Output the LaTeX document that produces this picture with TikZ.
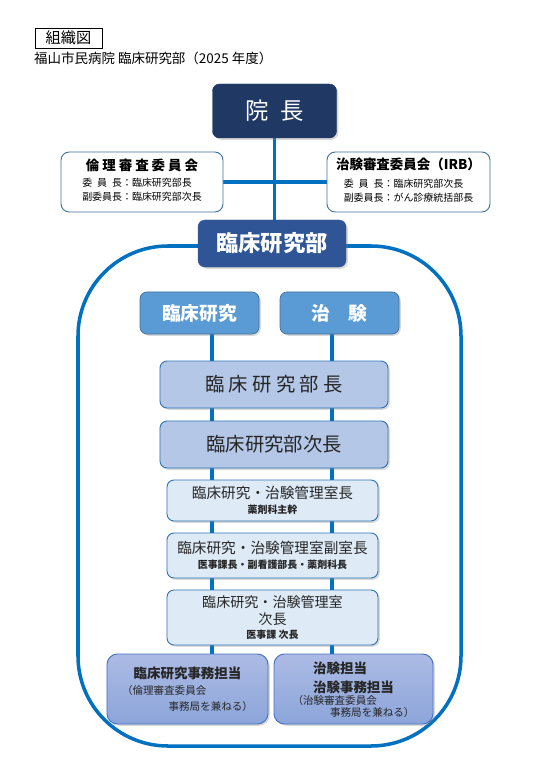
\documentclass[tikz,border=0pt]{standalone}
\usepackage{fontspec}
\setmainfont{Noto Sans CJK JP}
\newfontfamily\jpwide[LetterSpace=22]{Noto Sans CJK JP}
\usetikzlibrary{positioning,shadows,backgrounds}
\definecolor{NavyBox}{RGB}{32,56,100}
\definecolor{DeptBlue}{RGB}{47,85,151}
\definecolor{MidBlue}{RGB}{91,155,213}
\definecolor{MidBlueEdge}{RGB}{65,113,156}
\definecolor{PaleBlue}{RGB}{180,199,231}
\definecolor{LightBlue}{RGB}{222,235,247}
\definecolor{BoxEdge}{RGB}{46,117,182}
\definecolor{CommEdge}{RGB}{65,113,156}
\definecolor{LineBlue}{RGB}{0,112,192}
\definecolor{LavTop}{RGB}{172,187,228}
\definecolor{LavBottom}{RGB}{140,165,218}
\definecolor{LavEdge}{RGB}{68,114,196}
\definecolor{TextGray}{RGB}{38,38,38}
\newcommand{\subtxt}[1]{\\[-2pt]{\bfseries\fontsize{8.5}{10}\selectfont #1}}

\begin{document}
\begin{tikzpicture}[x=0.03cm,y=-0.03cm,font=\fontsize{11}{13}\selectfont,
		conn/.style={LineBlue,line width=2.8pt},
		bigframe/.style={LineBlue,line width=3pt,rounded corners=2.7cm},
		dropsh/.style={drop shadow={opacity=0.3,shadow xshift=1.5pt,shadow yshift=-1.5pt}},
		topbox/.style={rounded corners=6pt,align=center,inner sep=1pt,text=white,dropsh},
		comm/.style={draw=CommEdge,fill=white,line width=0.8pt,rounded corners=7pt,align=center,inner sep=1pt,minimum width=4.86cm,minimum height=1.8cm},
		unitbox/.style={topbox,fill=MidBlue,draw=MidBlueEdge,line width=0.6pt,minimum width=3.57cm,minimum height=1.26cm,font=\bfseries\fontsize{16}{19}\selectfont},
		headbox/.style={rounded corners=6pt,align=center,inner sep=1pt,fill=PaleBlue,draw=BoxEdge,line width=0.8pt,text=TextGray,minimum width=6.84cm,minimum height=1.41cm,font=\fontsize{16.5}{19}\selectfont,dropsh},
		roombox/.style={headbox,fill=LightBlue,minimum width=6.33cm,font=\fontsize{12.5}{15}\selectfont},
		jimubox/.style={rounded corners=9pt,align=center,inner sep=1pt,top color=LavTop,bottom color=LavBottom,draw=LavEdge,line width=0.8pt,minimum height=2.1cm,text=TextGray,font=\fontsize{9}{13}\selectfont,dropsh}]
	\useasboundingbox (0,0) rectangle (540,769);
	
	% タイトル
	\node[draw,line width=0.6pt,minimum width=2.01cm,minimum height=0.6cm,inner sep=0pt,font=\fontsize{13}{15}\selectfont] (title) at (68.5,38) {組織図};
	\node[anchor=west,inner sep=0pt,font=\fontsize{11.5}{14}\selectfont] (subtitle) at (34,58) {福山市民病院 臨床研究部（2025 年度）};
	
	% 院長と委員会
	\node[topbox,fill=NavyBox,draw=NavyBox,minimum width=3.72cm,minimum height=1.62cm,font=\fontsize{20}{24}\selectfont] (incho) at (274.5,111) {院\hspace{0.5em}長};
	\node[comm] (rinri) at (142,182) {{\jpwide\bfseries\fontsize{11.5}{14}\selectfont 倫理審査委員会}\\[3pt]
		\fontsize{8.5}{12}\selectfont\begin{tabular}{@{}l@{}}委\hspace{.5em}員\hspace{.5em}長：臨床研究部長\\副委員長：臨床研究部次長\end{tabular}};
	\node[comm,minimum width=4.89cm] (irb) at (408.5,182) {{\bfseries\fontsize{11.5}{14}\selectfont 治験審査委員会（IRB）}\\[5pt]
		\fontsize{8.5}{12}\selectfont\begin{tabular}{@{}l@{}}委\hspace{.5em}員\hspace{.5em}長：臨床研究部次長\\副委員長：がん診療統括部長\end{tabular}};
	\node[topbox,fill=DeptBlue,draw=DeptBlue,minimum width=4.44cm,minimum height=1.41cm,font=\bfseries\fontsize{19}{22}\selectfont] (bu) at (272,243.5) {臨床研究部};
	
	% 臨床研究部の中
	\node[unitbox] (kenkyu) at (199.5,313) {臨床研究};
	\node[unitbox] (chiken) at (339.5,313) {治\hspace{1em}験};
	\node[headbox] (bucho) at (274,384.5) {\jpwide 臨床研究部長};
	\node[headbox] (jicho) at (274,444.5) {臨床研究部次長};
	\node[roombox,minimum height=1.23cm] (shitsucho) at (272.5,500.5) {臨床研究・治験管理室長\subtxt{薬剤科主幹}};
	\node[roombox,minimum height=1.35cm] (fukushitsucho) at (272.5,555.5) {臨床研究・治験管理室副室長\subtxt{医事課長・副看護部長・薬剤科長}};
	\node[roombox,minimum height=1.65cm,font=\fontsize{12}{14}\selectfont] (shitsujicho) at (272.5,617.5) {臨床研究・治験管理室\\次長\subtxt{医事課 次長}};
	\node[jimubox,minimum width=4.83cm] (jimuL) at (187.5,689) {{\bfseries\fontsize{11.5}{14}\selectfont 臨床研究事務担当}\\[1pt]
		\makebox[3.93cm][l]{（倫理審査委員会}\\\makebox[3.93cm][r]{事務局を兼ねる）}};
	\node[jimubox,minimum width=4.77cm] (jimuR) at (353.5,689) {{\bfseries\fontsize{11.5}{16}\selectfont\begin{tabular}{@{}l@{}}治験担当\\治験事務担当\end{tabular}}\\[-3pt]
		\makebox[3.66cm][l]{（治験審査委員会}\\[-3pt]\makebox[3.66cm][r]{事務局を兼ねる）}};
	
	\coordinate (lineL) at (212,0);
	\coordinate (lineR) at (332,0);
	
	% 線と枠
	\begin{scope}[on background layer]
		\fill[white] (0,0) rectangle (540,769);
		\draw[bigframe] (78,246) rectangle (461,746);
		\draw[conn] (incho.south) -- (incho.south |- bu.north);
		\draw[conn] (rinri.east) -- (irb.west);
		\draw[conn] (kenkyu.south -| lineL) -- (jimuL.north -| lineL);
		\draw[conn] (chiken.south -| lineR) -- (jimuR.north -| lineR);
	\end{scope}
\end{tikzpicture}
\end{document}
